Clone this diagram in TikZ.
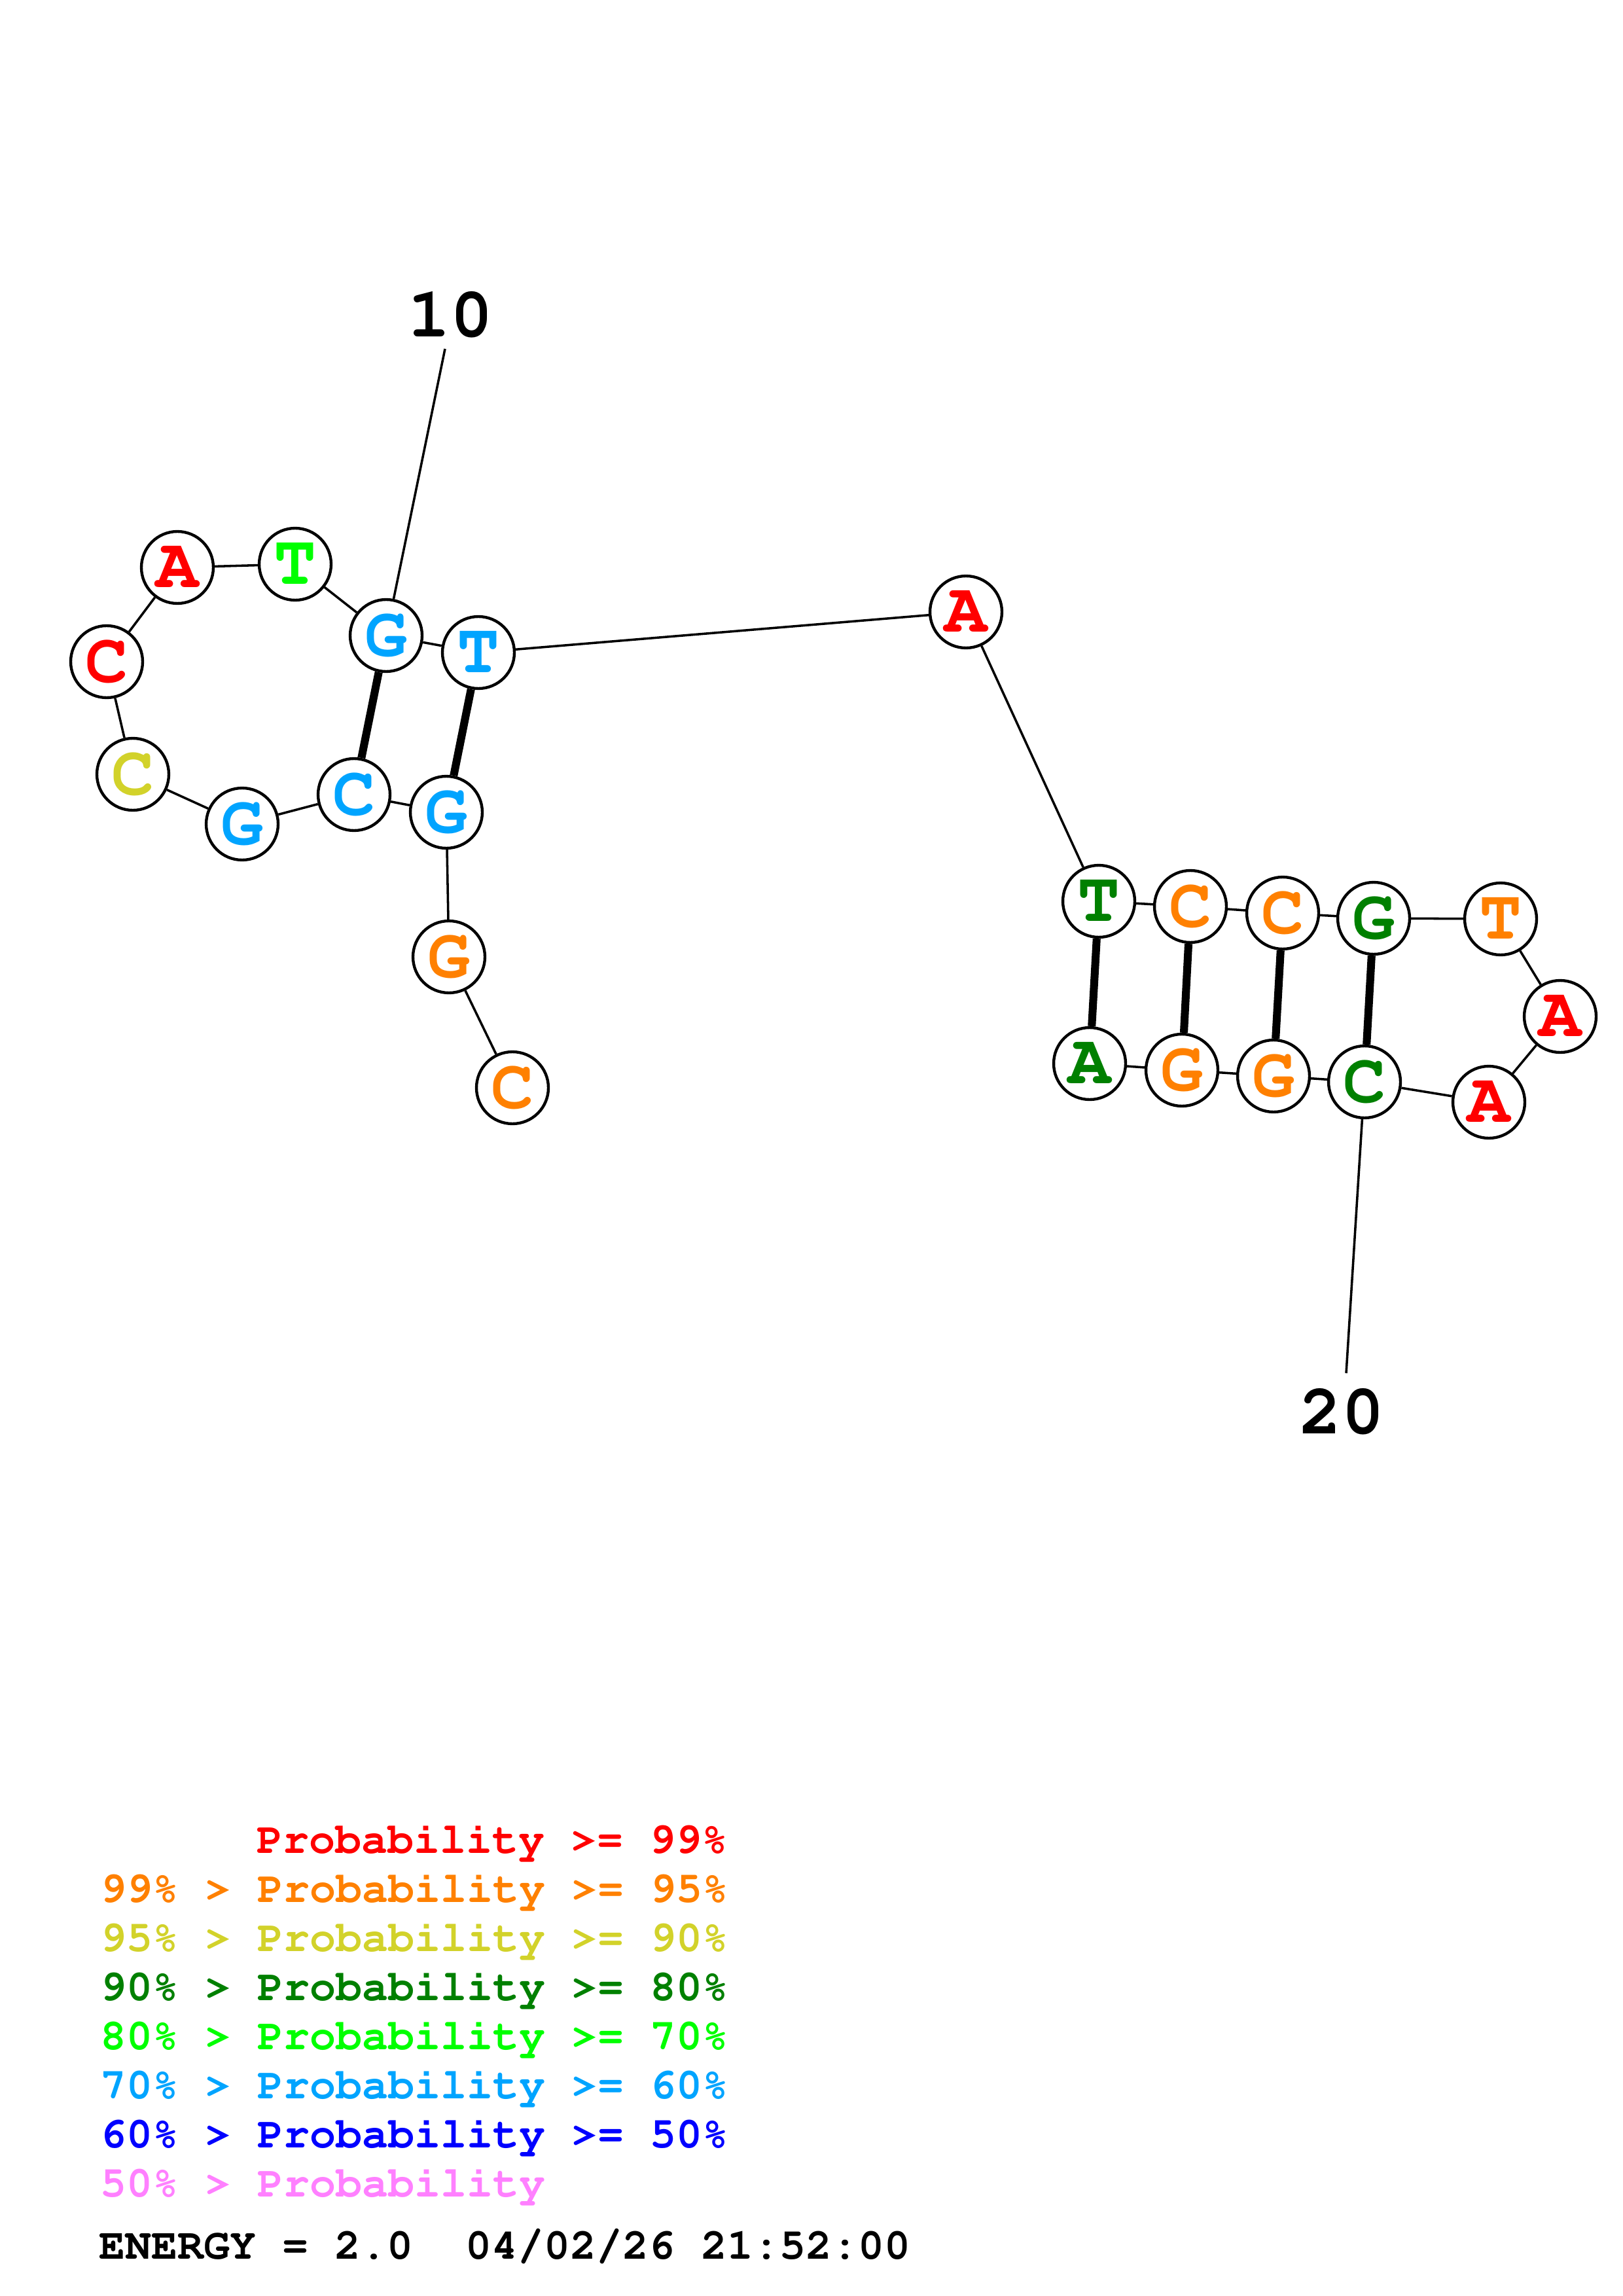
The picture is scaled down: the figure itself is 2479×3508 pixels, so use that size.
\documentclass[tikz,border=0pt]{standalone}
\usepackage{xcolor}
\usepackage{tikz}

\definecolor{pred}{RGB}{255,0,0}
\definecolor{porange}{RGB}{255,128,0}
\definecolor{pyellow}{RGB}{210,210,42}
\definecolor{pdgreen}{RGB}{0,128,0}
\definecolor{pgreen}{RGB}{0,255,0}
\definecolor{plblue}{RGB}{0,164,255}
\definecolor{pblue}{RGB}{0,0,255}
\definecolor{ppink}{RGB}{255,128,255}

\newcommand{\cour}[1]{\fontencoding{T1}\fontfamily{pcr}\fontseries{b}\fontsize{#1}{#1}\selectfont}

\begin{document}
\begin{tikzpicture}[x=0.2401pt, y=-0.2401pt,
	base/.style={circle, draw, line width=1.05pt, fill=white, inner sep=0pt, minimum size=26.4pt, font=\cour{26}},
	bb/.style={line width=0.85pt},
	pair/.style={line width=2.9pt},
	legend/.style={anchor=base west, inner sep=0pt, font=\cour{16}}]
					\useasboundingbox (0,0) rectangle (2479,3508);

					\node[base, text=porange] (1) at (783,1662) {C};
					\node[base, text=porange] (2) at (686,1462) {G};
					\node[base, text=plblue] (3) at (682,1241) {G};
					\node[base, text=plblue] (4) at (541,1214) {C};
					\node[base, text=plblue] (5) at (370,1259) {G};
					\node[base, text=pyellow] (6) at (203,1183) {C};
					\node[base, text=pred] (7) at (163,1011) {C};
					\node[base, text=pred] (8) at (271,867) {A};
					\node[base, text=pgreen] (9) at (451,862) {T};
					\node[base, text=plblue] (10) at (590,971) {G};
					\node[base, text=plblue] (11) at (731,997) {T};
					\node[base, text=pred] (12) at (1476,935) {A};
					\node[base, text=pdgreen] (13) at (1679,1377) {T};
					\node[base, text=porange] (14) at (1819,1385) {C};
					\node[base, text=porange] (15) at (1960,1395) {C};
					\node[base, text=pdgreen] (16) at (2099,1403) {G};
					\node[base, text=porange] (17) at (2293,1404) {T};
					\node[base, text=pred] (18) at (2384,1553) {A};
					\node[base, text=pred] (19) at (2275,1684) {A};
					\node[base, text=pdgreen] (20) at (2085,1653) {C};
					\node[base, text=porange] (21) at (1946,1644) {G};
					\node[base, text=porange] (22) at (1806,1635) {G};
					\node[base, text=pdgreen] (23) at (1665,1625) {A};

					\coordinate (t10) at (680,533);
					\coordinate (t20) at (2057,2098);
					\node[font=\cour{26}] (l10) at (688,481) {10};
					\node[font=\cour{26}] (l20) at (2050,2157) {20};

					\path[bb]
					(1) edge (2)
					(2) edge (3)
					(3) edge (4)
					(4) edge (5)
					(5) edge (6)
					(6) edge (7)
					(7) edge (8)
					(8) edge (9)
					(9) edge (10)
					(10) edge (11)
					(11) edge (12)
					(12) edge (13)
					(13) edge (14)
					(14) edge (15)
					(15) edge (16)
					(16) edge (17)
					(17) edge (18)
					(18) edge (19)
					(19) edge (20)
					(20) edge (21)
					(21) edge (22)
					(22) edge (23)
					(10) edge (t10)
					(20) edge (t20)
					;

					\path[pair]
					(4) edge (10)
					(3) edge (11)
					(13) edge (23)
					(14) edge (22)
					(15) edge (21)
					(16) edge (20)
					;

					\node[legend, text=pred] (p1) at (392,2831) {Probability >= 99\%};
					\node[legend, text=porange] (p2) at (153,2906) {99\% > Probability >= 95\%};
					\node[legend, text=pyellow] (p3) at (153,2981) {95\% > Probability >= 90\%};
					\node[legend, text=pdgreen] (p4) at (153,3056) {90\% > Probability >= 80\%};
					\node[legend, text=pgreen] (p5) at (153,3131) {80\% > Probability >= 70\%};
					\node[legend, text=plblue] (p6) at (153,3206) {70\% > Probability >= 60\%};
					\node[legend, text=pblue] (p7) at (153,3281) {60\% > Probability >= 50\%};
					\node[legend, text=ppink] (p8) at (153,3356) {50\% > Probability};
					\node[legend] (energy) at (151,3451) {ENERGY = 2.0~~04/02/26 21:52:00};
				\end{tikzpicture}
\end{document}
